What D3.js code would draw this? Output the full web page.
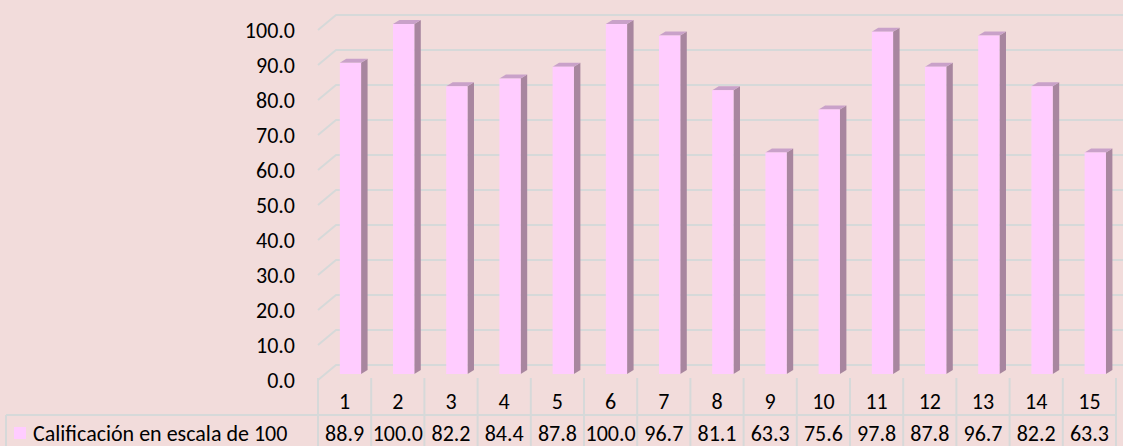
<!DOCTYPE html>
<html>
<head>
<meta charset="utf-8">
<script src="https://cdn.jsdelivr.net/npm/d3@7"></script>
<style>
html,body{margin:0;padding:0;background:#F2DCDB;}
svg{display:block;}
text{font-family:Carlito, Calibri, "Liberation Sans", Arial, sans-serif;fill:#000;}
</style>
</head>
<body>
<svg id="chart" width="1123" height="446"></svg>
<script>
const categories = ["1","2","3","4","5","6","7","8","9","10","11","12","13","14","15"];
const values = [88.9,100.0,82.2,84.4,87.8,100.0,96.7,81.1,63.3,75.6,97.8,87.8,96.7,82.2,63.3];
const yTicks = [0,10,20,30,40,50,60,70,80,90,100];
const seriesName = "Calificación en escala de 100";

const W = 1123, H = 446;
const FS = 22;
const svg = d3.select("#chart");
svg.append("rect").attr("width",W).attr("height",H).attr("fill","#F2DCDB");

const x = d3.scaleBand().domain(categories).range([318,1116]).padding(0);
const y = d3.scaleLinear().domain([0,100]).range([380,30]);
const depthDX = 18, depthDY = -15;      // wall depth
const barShiftY = -6;                   // bar front face sits inside the depth
const capDX = 6.5, capDY = -4;          // bar's own depth
const bw = x.bandwidth();

const grid = svg.append("g");
yTicks.forEach(t => {
  const y0 = y(t);
  grid.append("path")
    .attr("d", `M318,${y0} L${318+depthDX},${y0+depthDY} L${W+5},${y0+depthDY}`)
    .attr("fill","none").attr("stroke","#D6D9D9").attr("stroke-width",2);
});

// axis labels
const yAxis = d3.axisLeft(y).tickValues(yTicks).tickFormat(d3.format(".1f")).tickSize(0).tickPadding(0);
const ga = svg.append("g").attr("transform","translate(295,0)").call(yAxis);
ga.select(".domain").remove();
ga.selectAll("text").attr("font-size",FS).attr("font-family",'Carlito, Calibri, "Liberation Sans", Arial, sans-serif').attr("fill","#000").attr("dy","0.35em");

// bars
const bars = svg.append("g");
categories.forEach((c,i) => {
  const v = values[i];
  const x0 = x(c) + bw*0.41, w = bw*0.40;
  const yt = y(v) + barShiftY, yb = y(0) + barShiftY;
  bars.append("path").attr("d",`M${x0+w},${yt} L${x0+w+capDX},${yt+capDY} L${x0+w+capDX},${yb+capDY} L${x0+w},${yb} Z`).attr("fill","#A8869F");
  bars.append("path").attr("d",`M${x0},${yt} L${x0+capDX},${yt+capDY} L${x0+w+capDX},${yt+capDY} L${x0+w},${yt} Z`).attr("fill","#C9A1C9");
  bars.append("rect").attr("x",x0).attr("y",yt).attr("width",w).attr("height",yb-yt).attr("fill","#FFCCFF");
});

// data table
const tbl = svg.append("g");
const lineCol = "#D6D9D9";
categories.concat(["end"]).forEach((c,i) => {
  const xx = i < categories.length ? x(c) : x(categories[categories.length-1]) + bw;
  tbl.append("line").attr("x1",xx).attr("x2",xx).attr("y1",378).attr("y2",H).attr("stroke",lineCol).attr("stroke-width",2);
});
tbl.append("line").attr("x1",6).attr("x2",x.range()[1]).attr("y1",415).attr("y2",415).attr("stroke",lineCol).attr("stroke-width",2);
tbl.append("line").attr("x1",6).attr("x2",6).attr("y1",415).attr("y2",H).attr("stroke",lineCol).attr("stroke-width",2);

categories.forEach((c,i) => {
  tbl.append("text").attr("x",x(c)+bw/2).attr("y",401).attr("dy","0.35em").attr("text-anchor","middle").attr("font-size",FS).text(c);
  tbl.append("text").attr("x",x(c)+bw/2).attr("y",433).attr("dy","0.35em").attr("text-anchor","middle").attr("font-size",FS).text(d3.format(".1f")(values[i]));
});
tbl.append("rect").attr("x",14).attr("y",427).attr("width",12).attr("height",12).attr("fill","#FFCCFF");
tbl.append("text").attr("x",33).attr("y",433).attr("dy","0.35em").attr("font-size",FS).text(seriesName);
</script>
</body>
</html>
